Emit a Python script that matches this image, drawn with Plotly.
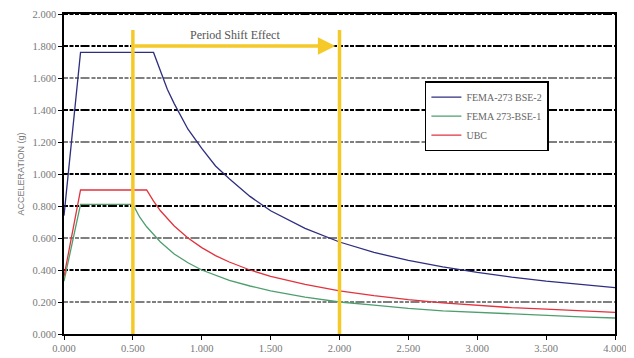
import plotly.graph_objects as go

# Periods (s) and spectral accelerations (g)
bse2_T = [0.0, 0.12, 0.65, 0.7, 0.75, 0.8, 0.9, 1.0, 1.1, 1.2, 1.35, 1.5, 1.75, 2.0, 2.25, 2.5, 2.75, 3.0, 3.25, 3.5, 3.75, 4.0]
bse2_A = [0.74, 1.76, 1.76, 1.64, 1.53, 1.44, 1.28, 1.16, 1.05, 0.97, 0.86, 0.77, 0.66, 0.575, 0.51, 0.46, 0.42, 0.385, 0.355, 0.33, 0.31, 0.29]

bse1_T = [0.0, 0.12, 0.5, 0.55, 0.6, 0.7, 0.8, 0.9, 1.0, 1.1, 1.2, 1.35, 1.5, 1.75, 2.0, 2.25, 2.5, 2.75, 3.0, 3.25, 3.5, 3.75, 4.0]
bse1_A = [0.33, 0.81, 0.81, 0.73, 0.67, 0.575, 0.50, 0.445, 0.40, 0.365, 0.335, 0.30, 0.27, 0.23, 0.20, 0.18, 0.16, 0.145, 0.135, 0.125, 0.115, 0.107, 0.10]

ubc_T = [0.0, 0.12, 0.6, 0.65, 0.7, 0.8, 0.9, 1.0, 1.1, 1.2, 1.35, 1.5, 1.75, 2.0, 2.25, 2.5, 2.75, 3.0, 3.25, 3.5, 3.75, 4.0]
ubc_A = [0.36, 0.90, 0.90, 0.83, 0.77, 0.675, 0.60, 0.54, 0.49, 0.45, 0.40, 0.36, 0.31, 0.27, 0.24, 0.215, 0.195, 0.18, 0.165, 0.155, 0.145, 0.135]

series_names = ["FEMA-273 BSE-2", "FEMA 273-BSE-1", "UBC"]
series_colors = ["#2E2E80", "#4E9E6E", "#E2323C"]

shift_start = 0.5
shift_end = 2.0
shift_level = 1.8
shift_top = 1.9
shift_label = "Period Shift Effect"

x_ticks = [0, 0.5, 1.0, 1.5, 2.0, 2.5, 3.0, 3.5, 4.0]
y_ticks = [0, 0.2, 0.4, 0.6, 0.8, 1.0, 1.2, 1.4, 1.6, 1.8, 2.0]
thick_grid = [0.4, 0.8, 1.0, 1.4, 1.8, 2.0]

fig = go.Figure()

# dash-dot grid lines (alternating weight as in the source)
for yv in y_ticks[1:]:
    fig.add_shape(type="line", x0=0, x1=1, xref="paper", y0=yv, y1=yv, yref="y",
                  line=dict(color="black", width=2.2 if yv in thick_grid else 1.2,
                            dash="4px,1.5px,4px,1.5px,4px,1.5px,9px,2px"),
                  layer="below")

for T, A, name, col in zip([bse2_T, bse1_T, ubc_T], [bse2_A, bse1_A, ubc_A], series_names, series_colors):
    fig.add_trace(go.Scatter(x=T, y=A, mode="lines", name=name,
                             line=dict(color=col, width=1.3)))

yellow = "#F4C928"
for xv in [shift_start, shift_end]:
    fig.add_shape(type="line", x0=xv, x1=xv, y0=0, y1=shift_top, xref="x", yref="y",
                  line=dict(color=yellow, width=3.5), layer="above")
fig.add_annotation(x=shift_end - 0.03, y=shift_level, ax=shift_start, ay=shift_level,
                   xref="x", yref="y", axref="x", ayref="y", text="",
                   showarrow=True, arrowhead=2, arrowsize=1.0, arrowwidth=3.5, arrowcolor=yellow)
fig.add_annotation(x=(shift_start + shift_end) / 2 - 0.01, y=shift_level + 0.01, xref="x", yref="y",
                   text=shift_label, showarrow=False, yanchor="bottom",
                   font=dict(family="Liberation Serif", size=12, color="#555555"))

fig.update_layout(
    width=626, height=350,
    margin=dict(l=56, r=19, t=6, b=24),
    paper_bgcolor="white", plot_bgcolor="white",
    showlegend=True,
    legend=dict(x=0.655, y=0.79, xanchor="left", yanchor="top",
                bordercolor="black", borderwidth=1.5, bgcolor="white",
                font=dict(family="Liberation Serif", size=10, color="#666666"),
                tracegroupgap=0, itemwidth=30),
    xaxis=dict(range=[0, 4], tickvals=x_ticks, tickformat=".3f", automargin=False,
               showgrid=False, showline=True, linecolor="black", linewidth=1.5, mirror=True,
               ticks="outside", ticklen=4, tickcolor="black",
               tickfont=dict(family="Liberation Serif", size=10.5, color="#777777"), zeroline=False),
    yaxis=dict(range=[0, 2], tickvals=y_ticks, tickformat=".3f", automargin=False,
               showgrid=False,
               showline=True, linecolor="black", linewidth=1.5, mirror=True,
               ticks="outside", ticklen=4, tickcolor="black",
               tickfont=dict(family="Liberation Serif", size=10.5, color="#777777"), zeroline=False,
               title=dict(text="ACCELERATION (g)", standoff=6,
                          font=dict(family="Liberation Sans", size=9, color="#777777"))),
)

fig.write_html("out.html")
